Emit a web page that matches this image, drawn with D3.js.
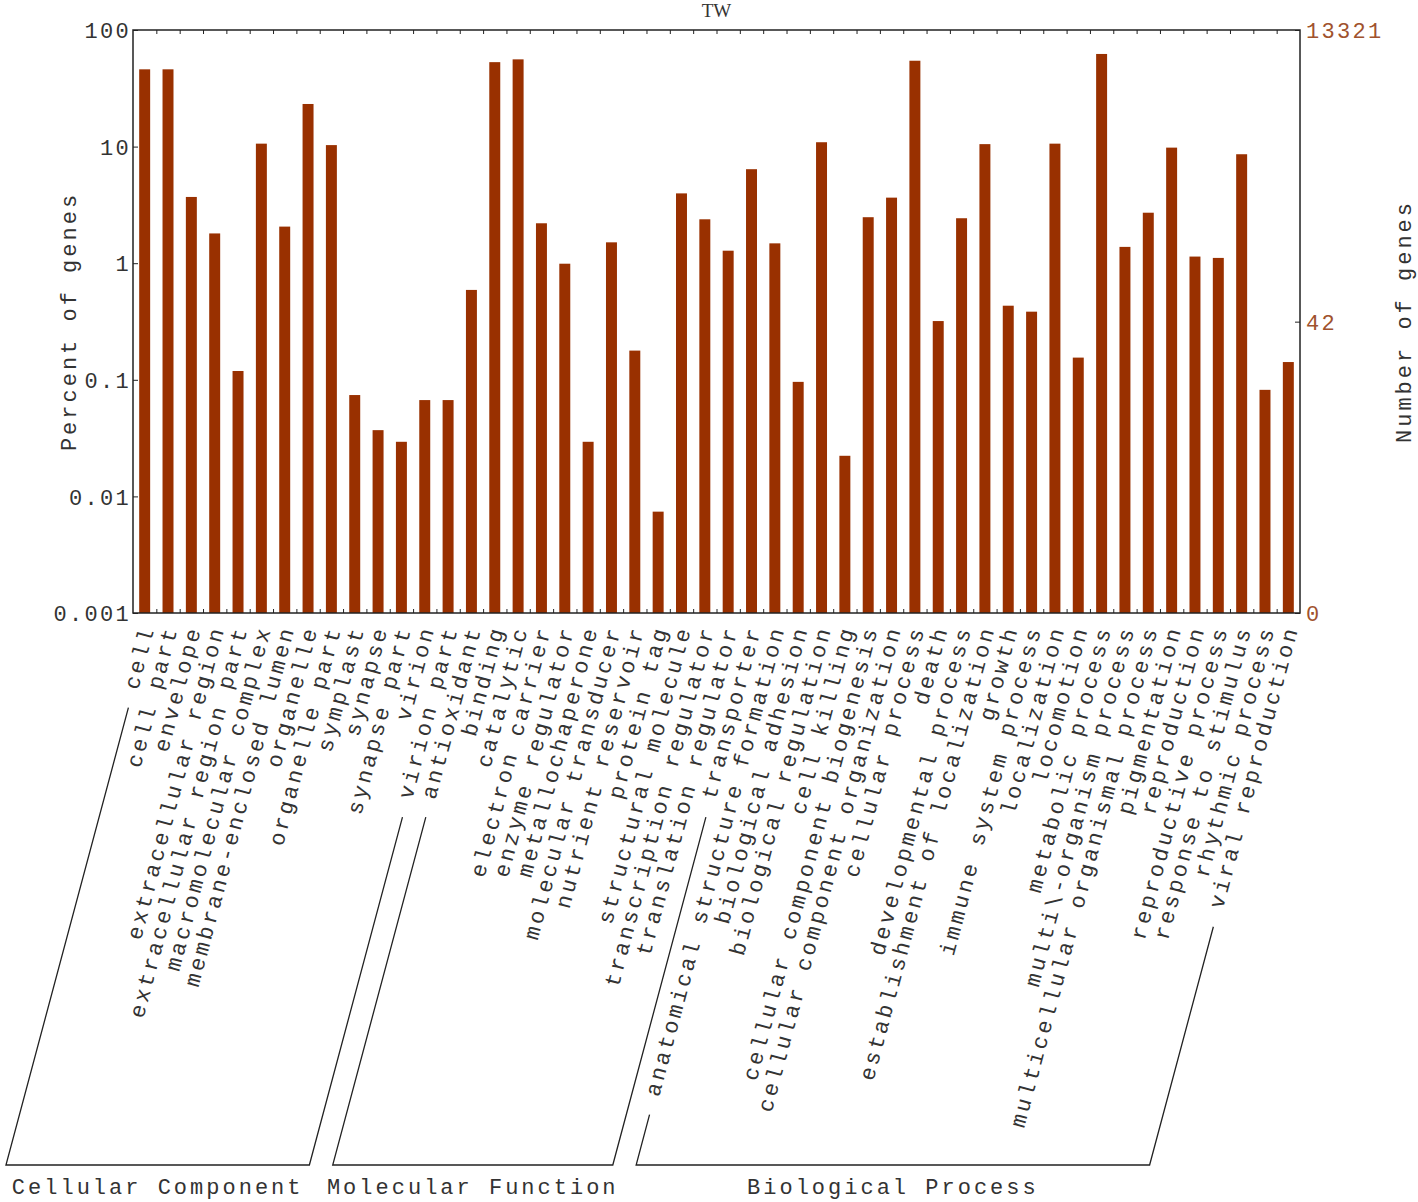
<!DOCTYPE html>
<html>
<head>
<meta charset="utf-8">
<script src="https://cdn.jsdelivr.net/npm/d3@7"></script>
<style>
body { margin: 0; background: #fff; }
text { font-family: "Liberation Mono", "DejaVu Sans Mono", monospace; }
</style>
</head>
<body>
<script>
// GO categories, one list per ontology
var cellularComponent = ["cell", "cell part", "envelope", "extracellular region", "extracellular region part",
  "macromolecular complex", "membrane-enclosed lumen", "organelle", "organelle part", "symplast",
  "synapse", "synapse part", "virion", "virion part"];
var molecularFunction = ["antioxidant", "binding", "catalytic", "electron carrier", "enzyme regulator",
  "metallochaperone", "molecular transducer", "nutrient reservoir", "protein tag", "structural molecule",
  "transcription regulator", "translation regulator", "transporter"];
var biologicalProcess = ["anatomical structure formation", "biological adhesion", "biological regulation",
  "cell killing", "cellular component biogenesis", "cellular component organization", "cellular process",
  "death", "developmental process", "establishment of localization", "growth", "immune system process",
  "localization", "locomotion", "metabolic process", "multi\\-organism process",
  "multicellular organismal process", "pigmentation", "reproduction", "reproductive process",
  "response to stimulus", "rhythmic process", "viral reproduction"];

// percent of genes
var ccPercent = [46, 46, 3.7, 1.8, 0.119, 10.6, 2.06, 23.2, 10.3, 0.074, 0.037, 0.0294, 0.067, 0.067];
var mfPercent = [0.59, 53, 56, 2.2, 0.99, 0.0294, 1.51, 0.178, 0.0074, 3.97, 2.38, 1.28, 6.4];
var bpPercent = [1.48, 0.096, 10.9, 0.0223, 2.48, 3.65, 54.5, 0.319, 2.43, 10.5, 0.432, 0.384,
  10.6, 0.155, 62.3, 1.38, 2.71, 9.8, 1.14, 1.11, 8.6, 0.082, 0.142];

var groupNames = ["Cellular Component", "Molecular Function", "Biological Process"];
var yTicks = [100, 10, 1, 0.1, 0.01, 0.001];
var yTickLabels = ["100", "10", "1", "0.1", "0.01", "0.001"];
var totalGenes = 13321;
var countTicks = [totalGenes * 0.001 / 100, 42, totalGenes];
var title = "TW";

var groups = [cellularComponent, molecularFunction, biologicalProcess];
var categories = cellularComponent.concat(molecularFunction, biologicalProcess);
var percents = ccPercent.concat(mfPercent, bpPercent);
var data = categories.map(function(c, i) { return {name: c, value: percents[i]}; });

var margin = {top: 30, right: 118, bottom: 589, left: 133},
    width = 1418 - margin.left - margin.right,
    height = 1202 - margin.top - margin.bottom;

var barColor = "#993000", textColor = "#333", countColor = "#a0522d";
var angle = -75;
var fontSize = "22px", spacing = "3px";

var x = d3.scaleBand().domain(categories).range([0, width]);
var y = d3.scaleLog().domain([0.001, 100]).range([height, 0]);
var yCount = d3.scaleLog().domain([countTicks[0], totalGenes]).range([height, 0]);
var xTicks = d3.scaleLinear().domain([0, categories.length]).range([0, width]);

var svg = d3.select("body")
    .append("svg")
        .attr("width", 1418)
        .attr("height", 1202)
    .append("g")
        .attr("transform", "translate(" + margin.left + "," + margin.top + ")");

var step = x.step(), barW = step * 0.47;

// bars
svg.selectAll(".bar")
    .data(data)
  .enter().append("rect")
    .attr("class", "bar")
    .attr("x", function(d) { return x(d.name) + (step - barW) / 2; })
    .attr("width", barW)
    .attr("y", function(d) { return y(d.value); })
    .attr("height", function(d) { return height - y(d.value); })
    .attr("fill", barColor);

// frame
svg.append("rect")
    .attr("width", width).attr("height", height)
    .attr("fill", "none").attr("stroke", "#222").attr("stroke-width", 1.5);

// tick marks between categories, top and bottom
svg.append("g")
    .call(d3.axisTop(xTicks).tickValues(d3.range(1, categories.length)).tickSize(-4).tickFormat(""));
svg.append("g")
    .attr("transform", "translate(0," + height + ")")
    .call(d3.axisBottom(xTicks).tickValues(d3.range(1, categories.length)).tickSize(-4).tickFormat(""));

// left axis
var yAxisG = svg.append("g")
    .call(d3.axisLeft(y).tickValues(yTicks)
        .tickFormat(function(d, i) { return yTickLabels[i]; })
        .tickSize(-5).tickPadding(2));

// right axis (number of genes)
var rAxisG = svg.append("g")
    .attr("transform", "translate(" + width + ",0)")
    .call(d3.axisRight(yCount).tickValues(countTicks)
        .tickFormat(function(d) { return Math.round(d); })
        .tickSize(-5).tickPadding(6));

svg.selectAll(".domain").remove();
svg.selectAll(".tick line").attr("stroke", "#222");
yAxisG.selectAll("text")
    .style("font-family", '"Liberation Mono", monospace')
    .style("font-size", fontSize).style("letter-spacing", "2.3px")
    .attr("fill", textColor).attr("dy", "0.35em");
rAxisG.selectAll("text")
    .style("font-family", '"Liberation Mono", monospace')
    .style("font-size", fontSize).style("letter-spacing", "2.3px")
    .attr("fill", countColor).attr("dy", "0.35em");

// title and axis titles
svg.append("text")
    .attr("x", width / 2).attr("y", -20)
    .attr("text-anchor", "middle").attr("dy", "0.35em")
    .style("font-family", '"Liberation Serif", serif')
    .style("font-size", "19px")
    .attr("fill", textColor)
    .text(title);

svg.append("text")
    .attr("transform", "translate(" + (68 - margin.left) + "," + (height / 2) + ") rotate(-90)")
    .attr("text-anchor", "middle").attr("dy", "0.35em")
    .style("font-size", fontSize).style("letter-spacing", spacing)
    .attr("fill", textColor)
    .text("Percent of genes");

svg.append("text")
    .attr("transform", "translate(" + (width + 103) + "," + (height / 2) + ") rotate(-90)")
    .attr("text-anchor", "middle").attr("dy", "0.35em")
    .style("font-size", fontSize).style("letter-spacing", spacing)
    .attr("fill", textColor)
    .text("Number of genes");

// category labels
var labelDx = 10, labelY = height + 15;
function labelPoint(name) {
    return [x(name) + step / 2 + labelDx, labelY];
}
var labels = svg.selectAll(".label")
    .data(categories)
  .enter().append("text")
    .attr("class", "label")
    .attr("transform", function(d) {
        var p = labelPoint(d);
        return "translate(" + p[0] + "," + p[1] + ") rotate(" + angle + ")";
    })
    .attr("text-anchor", "end")
    .style("font-size", fontSize).style("letter-spacing", spacing)
    .attr("fill", textColor)
    .text(function(d) { return d; });

var lengths = {};
labels.each(function(d) { lengths[d] = this.getComputedTextLength(); });

// brackets under each ontology
var rad = angle * Math.PI / 180,
    ux = Math.cos(rad), uy = Math.sin(rad),
    nx = -5 * Math.sin(-rad), ny = -5 * Math.cos(rad) * 0.27,
    gap = 18, yBase = 1165 - margin.top;

function bracketSide(name) {
    var p = labelPoint(name), t = lengths[name] + gap;
    var top = [p[0] - t * ux + nx, p[1] - t * uy + ny];
    var tb = (yBase - p[1]) / -uy;
    var bottom = [p[0] - tb * ux + nx, yBase];
    return [top, bottom];
}

groups.forEach(function(g, gi) {
    var left = bracketSide(g[0]), right = bracketSide(g[g.length - 1]);
    svg.append("path")
        .attr("d", d3.line()([left[0], left[1], right[1], right[0]]))
        .attr("fill", "none").attr("stroke", "#222").attr("stroke-width", 1.3);
    svg.append("text")
        .attr("x", (left[1][0] + right[1][0]) / 2).attr("y", yBase + 29)
        .attr("text-anchor", "middle")
        .style("font-size", fontSize).style("letter-spacing", spacing)
        .attr("fill", textColor)
        .text(groupNames[gi]);
});
</script>
</body>
</html>
